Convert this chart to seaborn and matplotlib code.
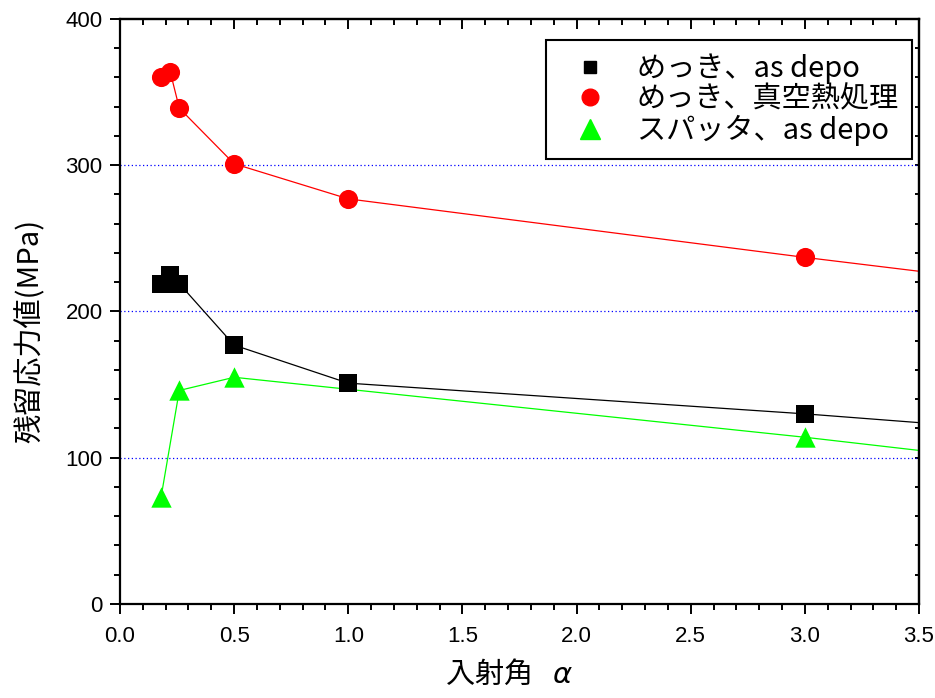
import numpy as np
import pandas as pd
import matplotlib
matplotlib.use("Agg")
import matplotlib.pyplot as plt
from matplotlib.lines import Line2D
from matplotlib.ticker import MultipleLocator
import seaborn as sns

# Measured residual stress vs. incidence angle
plating_x = [0.18, 0.22, 0.26, 0.5, 1.0, 3.0]
plating_y = [219, 225, 219, 177, 151, 130]

annealed_x = [0.18, 0.22, 0.26, 0.5, 1.0, 3.0]
annealed_y = [360, 364, 339, 301, 277, 237]

sputter_x = [0.18, 0.26, 0.5, 3.0]
sputter_y = [73, 146, 155, 114]

# connecting lines continue to the right edge of the plot
plating_line_x = [0.18, 0.22, 0.26, 0.5, 1.0, 3.0, 3.5]
plating_line_y = [219, 225, 219, 177, 151, 130, 124]
annealed_line_x = [0.18, 0.22, 0.26, 0.5, 1.0, 3.0, 3.5]
annealed_line_y = [360, 364, 339, 301, 277, 237, 227.5]
sputter_line_x = [0.18, 0.26, 0.5, 3.0, 3.5]
sputter_line_y = [73, 146, 155, 114, 105]

labels = ["めっき、as depo", "めっき、真空熱処理", "スパッタ、as depo"]
colors = ["#000000", "#ff0000", "#00ff00"]
markers = ["s", "o", "^"]
marker_area = [150, 190, 215]

x_ticks = [0.0, 0.5, 1.0, 1.5, 2.0, 2.5, 3.0, 3.5]
y_ticks = [0, 100, 200, 300, 400]

sns.set_theme(style="white")
plt.rcParams["font.family"] = ["Noto Sans CJK JP", "DejaVu Sans"]
plt.rcParams["mathtext.fontset"] = "dejavusans"
plt.rcParams.update({"text.color": "black", "axes.labelcolor": "black",
                     "xtick.color": "black", "ytick.color": "black"})

fig = plt.figure(figsize=(9.35, 6.98), dpi=100)
ax = fig.add_axes([0.1283, 0.1347, 0.8546, 0.8381])

series = [
    (plating_x, plating_y, plating_line_x, plating_line_y),
    (annealed_x, annealed_y, annealed_line_x, annealed_line_y),
    (sputter_x, sputter_y, sputter_line_x, sputter_line_y),
]

# dotted reference lines
for yv in [100, 200, 300]:
    ax.axhline(yv, color="#0000ff", linestyle=(0, (1, 2.0)), linewidth=0.9, zorder=1)

for (px, py, lx, ly), c, m, s in zip(series, colors, markers, marker_area):
    sns.lineplot(x=lx, y=ly, ax=ax, color=c, linewidth=0.9, sort=False,
                 estimator=None, zorder=2, legend=False)
    sns.scatterplot(x=px, y=py, ax=ax, color=c, marker=m, s=s, linewidth=0,
                    zorder=3, legend=False, clip_on=False)

ax.set_xlim(0, 3.5)
ax.set_ylim(0, 400)
ax.set_xticks(x_ticks)
ax.set_yticks(y_ticks)
ax.xaxis.set_minor_locator(MultipleLocator(0.1))
ax.yaxis.set_minor_locator(MultipleLocator(20))
ax.set_xticklabels([f"{v:.1f}" for v in x_ticks],
                   family=["Liberation Sans", "DejaVu Sans"], fontsize=16, color="black")
ax.set_yticklabels([str(v) for v in y_ticks],
                   family=["Liberation Sans", "DejaVu Sans"], fontsize=16, color="black")

for sp in ax.spines.values():
    sp.set_visible(True)
    sp.set_color("black")
    sp.set_linewidth(1.6)

ax.tick_params(axis="both", which="both", color="black", width=1.4)
ax.tick_params(axis="x", which="major", pad=8)
ax.tick_params(axis="y", which="major", pad=5)

# outward ticks on bottom/left, inward ticks on top/right
for which, length in [("major", 7.5), ("minor", 4.5)]:
    ax.tick_params(axis="x", which=which, bottom=True, top=False, direction="out", length=length)
    ax.tick_params(axis="y", which=which, left=True, right=False, direction="out", length=length)

sec_x = ax.secondary_xaxis("top")
sec_x.set_xticks(x_ticks)
sec_x.xaxis.set_minor_locator(MultipleLocator(0.1))
sec_x.tick_params(which="major", direction="in", length=7.5, width=1.4, labeltop=False)
sec_x.tick_params(which="minor", direction="in", length=4.5, width=1.4)
sec_x.spines["top"].set_linewidth(1.6)

sec_y = ax.secondary_yaxis("right")
sec_y.set_yticks(y_ticks)
sec_y.yaxis.set_minor_locator(MultipleLocator(20))
sec_y.tick_params(which="major", direction="in", length=3, width=1.4, labelright=False)
sec_y.tick_params(which="minor", direction="in", length=3, width=1.4)
sec_y.spines["right"].set_linewidth(1.6)

ax.set_xlabel("入射角   $\\alpha$", fontsize=21, color="black")
ax.xaxis.set_label_coords(0.487, -0.095)
ax.set_ylabel("残留応力値(MPa)", fontsize=21, color="black")
ax.yaxis.set_label_coords(-0.093, 0.467)

handles = [
    Line2D([], [], linestyle="none", marker=m, color=c, markersize=ms)
    for c, m, ms in zip(colors, markers, [9, 12, 15])
]
leg = ax.legend(handles, labels, loc="upper right", bbox_to_anchor=(0.991, 0.964),
                borderaxespad=0, fontsize=21, frameon=True, fancybox=False,
                framealpha=1.0, handletextpad=0.55, borderpad=0.45,
                labelspacing=0.02, handlelength=2.1, labelcolor="black")
leg.get_frame().set_edgecolor("black")
leg.get_frame().set_linewidth(1.5)

fig.savefig("out.png", dpi=100, facecolor="white")
